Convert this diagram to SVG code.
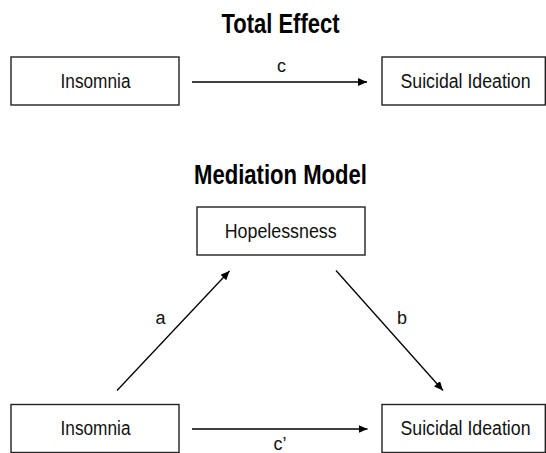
<svg xmlns="http://www.w3.org/2000/svg" width="546" height="453" viewBox="0 0 546 453">
  <defs>
    <marker id="arr" markerUnits="userSpaceOnUse" markerWidth="12" markerHeight="10" refX="9" refY="4" orient="auto">
      <path d="M0,0 L9,4 L0,8 Z" fill="#000"/>
    </marker>
  </defs>
  <style>
    .box { fill: #fff; stroke: #222; stroke-width: 1.4; }
    .lbl { font-family: "Liberation Sans", Arial, sans-serif; font-size: 20px; fill: #111; text-anchor: middle; }
    .title { font-family: "Liberation Sans", Arial, sans-serif; font-size: 27px; font-weight: bold; fill: #000; text-anchor: middle; }
    .path { font-family: "Liberation Sans", Arial, sans-serif; font-size: 18px; fill: #111; text-anchor: middle; }
    .conn { stroke: #000; stroke-width: 1.3; fill: none; marker-end: url(#arr); }
  </style>
  <rect width="546" height="453" fill="#fff"/>

  <text class="title" x="280.5" y="33" textLength="118" lengthAdjust="spacingAndGlyphs">Total Effect</text>
  <text class="title" x="280.5" y="184" textLength="173" lengthAdjust="spacingAndGlyphs">Mediation Model</text>

  <g id="insomnia-top">
    <rect class="box" x="11" y="57" width="168" height="48"/>
    <text class="lbl" x="95.5" y="87.5" textLength="70" lengthAdjust="spacingAndGlyphs">Insomnia</text>
  </g>
  <g id="suicidal-top">
    <rect class="box" x="382" y="57" width="163.3" height="48"/>
    <text class="lbl" x="465.5" y="87.5" textLength="130" lengthAdjust="spacingAndGlyphs">Suicidal Ideation</text>
  </g>
  <g id="hopelessness">
    <rect class="box" x="197" y="207" width="168" height="48"/>
    <text class="lbl" x="280.7" y="237.5" textLength="112" lengthAdjust="spacingAndGlyphs">Hopelessness</text>
  </g>
  <g id="insomnia-bottom">
    <rect class="box" x="11" y="404.5" width="168" height="48"/>
    <text class="lbl" x="95.5" y="435" textLength="70" lengthAdjust="spacingAndGlyphs">Insomnia</text>
  </g>
  <g id="suicidal-bottom">
    <rect class="box" x="382" y="404.5" width="163.3" height="48"/>
    <text class="lbl" x="465.5" y="435" textLength="130" lengthAdjust="spacingAndGlyphs">Suicidal Ideation</text>
  </g>

  <g id="connectors">
    <line class="conn" x1="192" y1="82" x2="367" y2="82"/>
    <line class="conn" x1="117" y1="390.5" x2="229.5" y2="271"/>
    <line class="conn" x1="336" y1="270.5" x2="443" y2="390.5"/>
    <line class="conn" x1="192" y1="429" x2="367.5" y2="429"/>
    <text class="path" x="281.5" y="71.5">c</text>
    <text class="path" x="160.5" y="324">a</text>
    <text class="path" x="402" y="324">b</text>
    <text class="path" x="280" y="450">c’</text>
  </g>
</svg>
